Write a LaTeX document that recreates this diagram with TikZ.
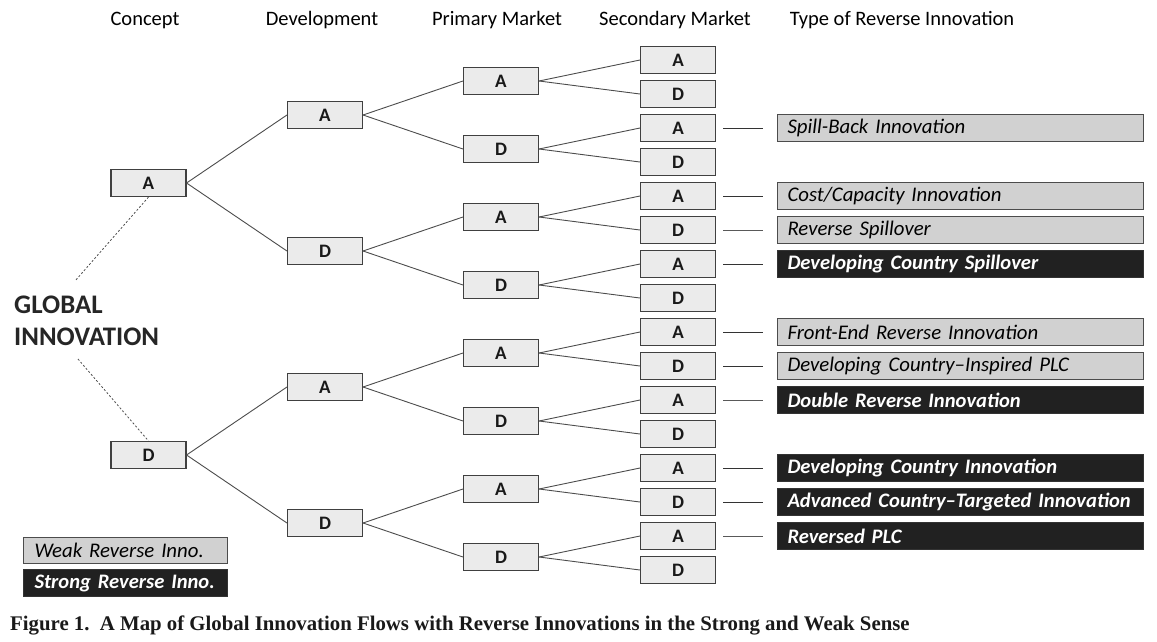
\documentclass[tikz,border=0pt]{standalone}
\usepackage{fontspec}
\setmainfont{Carlito}
\newfontfamily\capfont{Liberation Serif}
\begin{document}
\begin{tikzpicture}[x=1pt,y=-1pt,
  box/.style={draw=black!75, line width=1.1pt, fill=black!8, minimum width=75pt, minimum height=27pt, inner sep=0pt, font=\fontsize{19}{19}\selectfont\bfseries, text=black!90},
  hdr/.style={font=\fontsize{20.5}{20.5}\selectfont, text=black},
  weak/.style={draw=black!70, line width=1pt, fill=black!18, text=black, anchor=west, text width=346pt, inner xsep=10pt, minimum height=27pt, inner ysep=0pt, align=left, font=\fontsize{20.8}{20.8}\selectfont\itshape},
  strong/.style={draw=black!80, line width=1pt, fill=black!87, text=white, anchor=west, text width=346pt, inner xsep=10pt, minimum height=27pt, inner ysep=0pt, align=left, font=\fontsize{20.6}{20.6}\selectfont\bfseries\itshape},
  tree/.style={draw=black!70, line width=0.9pt},
  link/.style={draw=black!80, line width=0.9pt, shorten <=7pt, shorten >=14pt},
  thinlink/.style={draw=black!65, line width=0.6pt, shorten <=7pt, shorten >=14pt},
  dots/.style={draw=black!70, line width=0.8pt, dash pattern=on 2pt off 2pt}
]
\useasboundingbox (0,0) rectangle (1157,641);
% headers
\node[hdr] (h1) at (145,20) {Concept};
\node[hdr] (h2) at (322,20) {Development};
\node[hdr] (h3) at (497,20) {Primary Market};
\node[hdr] (h4) at (675,20) {Secondary Market};
\node[hdr] (h5) at (902,20) {Type of Reverse Innovation};
% secondary
\foreach \i in {1,...,16}{
  \pgfmathsetmacro\yy{60+34*(\i-1)}
  \node[box] (s\i) at (678,\yy) {\ifodd\i\relax A\else D\fi};
}
% primary
\foreach \j in {1,...,8}{
  \pgfmathsetmacro\yy{81+68*(\j-1)}
  \pgfmathtruncatemacro\a{2*\j-1}
  \pgfmathtruncatemacro\b{2*\j}
  \node[box] (p\j) at (501,\yy) {\ifodd\j\relax A\else D\fi};
  \draw[tree] (p\j.east) -- (s\a.west);
  \draw[tree] (p\j.east) -- (s\b.west);
}
% development
\foreach \k in {1,...,4}{
  \pgfmathsetmacro\yy{115+136*(\k-1)}
  \pgfmathtruncatemacro\a{2*\k-1}
  \pgfmathtruncatemacro\b{2*\k}
  \node[box] (d\k) at (325,\yy) {\ifodd\k\relax A\else D\fi};
  \draw[tree] (d\k.east) -- (p\a.west);
  \draw[tree] (d\k.east) -- (p\b.west);
}
% concept
\node[box] (c1) at (148.5,183) {A};
\node[box] (c2) at (148.5,455) {D};
\foreach \a/\b in {c1/d1,c1/d2,c2/d3,c2/d4}{\draw[tree] (\a.east) -- (\b.west);}
% global innovation
\node[font=\fontsize{26.8}{32}\selectfont\bfseries, text=black!85, align=left, anchor=west, inner xsep=0pt] (gi) at (14,321) {GLOBAL\\INNOVATION};
\coordinate (g1) at (75,281);
\coordinate (g2) at (78,359);
\draw[dots] (c1.south) -- (g1);
\draw[dots] (g2) -- (c2.north);
% labels
\node[weak] (l3) at (777,128) {Spill-Back Innovation};
\node[weak] (l5) at (777,196) {Cost/Capacity Innovation};
\node[weak] (l6) at (777,230) {Reverse Spillover};
\node[strong] (l7) at (777,264) {Developing Country Spillover};
\node[weak] (l9) at (777,332) {Front-End Reverse Innovation};
\node[weak] (l10) at (777,366) {Developing Country--Inspired PLC};
\node[strong] (l11) at (777,400) {Double Reverse Innovation};
\node[strong] (l13) at (777,468) {Developing Country Innovation};
\node[strong] (l14) at (777,502) {Advanced Country--Targeted Innovation};
\node[strong] (l15) at (777,536) {Reversed PLC};
\foreach \n in {3,5,7,9,10,13,14}{\draw[link] (s\n.east) -- (l\n.west);}
\foreach \n in {6,11,15}{\draw[thinlink] (s\n.east) -- (l\n.west);}
% legend
\node[weak, text width=182pt, inner xsep=11pt, minimum height=26pt] (w) at (23,550) {Weak Reverse Inno.};
\node[strong, text width=182pt, inner xsep=11pt, minimum height=27pt] (st) at (23,583) {Strong Reverse Inno.};
% caption
\node[anchor=west, font=\capfont\bfseries\fontsize{20.8}{20.8}\selectfont, text=black!90, inner sep=0pt] (cap) at (10,625) {Figure 1.\ \ A Map of Global Innovation Flows with Reverse Innovations in the Strong and Weak Sense};
\end{tikzpicture}
\end{document}
